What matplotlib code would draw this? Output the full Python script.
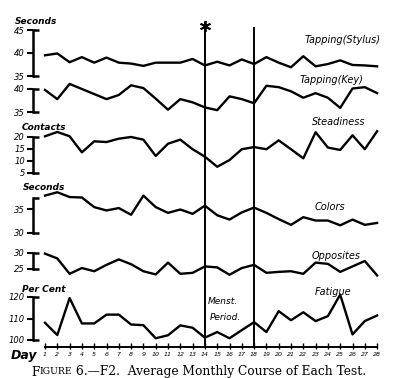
import matplotlib.pyplot as plt

W, H = 400, 378
DX = 12.3  # pixels per day in the reference

days = list(range(1, 29))

stylus = [39.5, 39.9, 38.0, 39.1, 37.9, 39.0, 37.9, 37.7, 37.2, 37.9, 37.9, 37.9, 38.7, 37.3,
          38.1, 37.3, 38.6, 37.6, 39.1, 37.9, 36.9, 39.3, 37.1, 37.6, 38.4, 37.4, 37.3, 37.1]
key = [39.8, 37.8, 41.1, 40.0, 38.9, 37.8, 38.7, 40.8, 40.2, 37.9, 35.5, 37.8, 37.1, 36.0,
       35.4, 38.4, 37.8, 36.9, 40.7, 40.4, 39.5, 38.1, 39.1, 38.1, 35.9, 40.1, 40.4, 39.1]
steadiness = [20.3, 22.1, 20.3, 13.6, 18.2, 17.9, 19.3, 20.0, 18.9, 12.1, 17.2, 18.9, 14.9, 11.8,
              7.6, 10.4, 14.9, 15.8, 14.9, 18.6, 14.9, 11.1, 22.0, 15.6, 14.6, 20.7, 14.9, 22.4]
colors = [37.8, 38.5, 37.5, 37.4, 35.4, 34.7, 35.2, 33.8, 37.8, 35.4, 34.2, 34.9, 34.0, 35.7,
          33.7, 32.8, 34.3, 35.3, 34.2, 32.9, 31.7, 33.3, 32.6, 32.6, 31.6, 32.8, 31.7, 32.1]
opposites = [29.8, 28.3, 23.5, 25.3, 24.3, 26.3, 28.0, 26.5, 24.3, 23.3, 27.0, 23.5, 23.8, 25.8,
             25.5, 23.2, 25.3, 26.3, 23.8, 24.1, 24.3, 23.5, 27.0, 26.6, 24.1, 25.8, 27.5, 23.0]
fatigue = [108.0, 102.3, 119.5, 107.7, 107.7, 111.8, 111.8, 107.2, 106.9, 100.8, 102.2, 106.8,
           105.7, 101.1, 103.7, 100.8, 104.6, 108.3, 103.7, 113.4, 109.2, 112.9, 108.8, 111.1,
           121.1, 102.6, 108.8, 111.4]

series = [stylus, key, steadiness, colors, opposites, fatigue]
names = ["Tapping(Stylus)", "Tapping(Key)", "Steadiness", "Colors", "Opposites", "Fatigue"]
ticks = [[45, 40, 35], [40, 35], [20, 15, 10, 5], [35, 30], [30, 25], [120, 110, 100]]
limits = [(35, 45), (35, 40), (5, 20), (30, 37.3), (25, 30), (100, 120)]
units = ["Seconds", None, "Contacts", "Seconds", None, "Per Cent"]
menses = [14, 18]

# panel placement in reference pixels: top, bottom of bracket; name pos; unit pos
panel_px = [(30, 76), (89, 112), (137, 173), (198, 233), (253, 269), (297, 340)]
name_px = [(305, 40), (300, 80), (312, 122), (315, 207), (312, 256), (315, 292)]
unit_px = [(15, 22), None, (22, 128), (23, 188), None, (22, 290)]

HAND = dict(family="DejaVu Sans", style="italic")


def fx(x):
    return x / W


def fy(y):
    return 1 - y / H


fig = plt.figure(figsize=(W / 100, H / 100), dpi=100)

x_lo, x_hi = -1, 29
ax_left = fx(45 - 2 * DX)
ax_width = (x_hi - x_lo) * DX / W

# background axes, y in reference pixels, for the day axis and period lines
bg = fig.add_axes([ax_left, 0, ax_width, 1])
bg.set_xlim(x_lo, x_hi)
bg.set_ylim(H, 0)
bg.axis("off")

bg.vlines(menses, [22, 27], 347, color="k", lw=1.4)
bg.plot(menses[0], 26, marker=(6, 2, 0), ms=8, mew=1.3, color="k")
bg.plot([days[0], days[-1]], [347, 347], color="k", lw=1.4)
bg.vlines(days, 343, 349, color="k", lw=1.0)
for d in days:
    bg.text(d, 355, str(d), ha="center", va="center", fontsize=4.5, **HAND)
bg.text(-0.7, 356, "Day", ha="center", va="center", fontsize=9, weight="bold", **HAND)
bg.text(14.2, 302, "Menst.", ha="left", va="center", fontsize=6.5, **HAND)
bg.text(14.4, 317, "Period.", ha="left", va="center", fontsize=6.5, **HAND)

for vals, (top, bot), tk, (vlo, vhi) in zip(series, panel_px, ticks, limits):
    ax = fig.add_axes([ax_left, fy(bot), ax_width, (bot - top) / H])
    ax.set_xlim(x_lo, x_hi)
    ax.set_ylim(vlo, vhi)
    ax.patch.set_visible(False)
    for s in ["top", "right", "bottom"]:
        ax.spines[s].set_visible(False)
    ax.spines["left"].set_position(("data", 0))
    ax.spines["left"].set_linewidth(1.8)
    ax.set_xticks([])
    ax.set_yticks(tk)
    ax.set_yticklabels([str(t) for t in tk], fontsize=6, **HAND)
    ax.tick_params(axis="y", direction="out", length=4, width=1.5, pad=1.5)
    for v in (vlo, vhi):
        ax.plot([0, 0.55], [v, v], color="k", lw=1.8, clip_on=False, solid_capstyle="butt")
    ax.plot(days, vals, color="k", lw=1.7, clip_on=False)

for name, (x, y) in zip(names, name_px):
    fig.text(fx(x), fy(y), name, ha="left", va="center", fontsize=7, **HAND)

for u, p in zip(units, unit_px):
    if u:
        fig.text(fx(p[0]), fy(p[1]), u, ha="left", va="center", fontsize=6.5,
                 weight="bold", **HAND)

# caption with small caps "FIGURE"
serif = "DejaVu Serif"
renderer = fig.canvas.get_renderer()
x0 = fx(31)
cy = fy(372)
parts = [("F", 8.8), ("IGURE", 6.7), (" 6.\u2014F2.  Average Monthly Course of Each Test.", 8.8)]
for txt, size in parts:
    t = fig.text(x0, cy, txt, ha="left", va="center", fontsize=size, family=serif)
    bb = t.get_window_extent(renderer)
    x0 += bb.width / (W)

fig.savefig("out.png", dpi=100)
